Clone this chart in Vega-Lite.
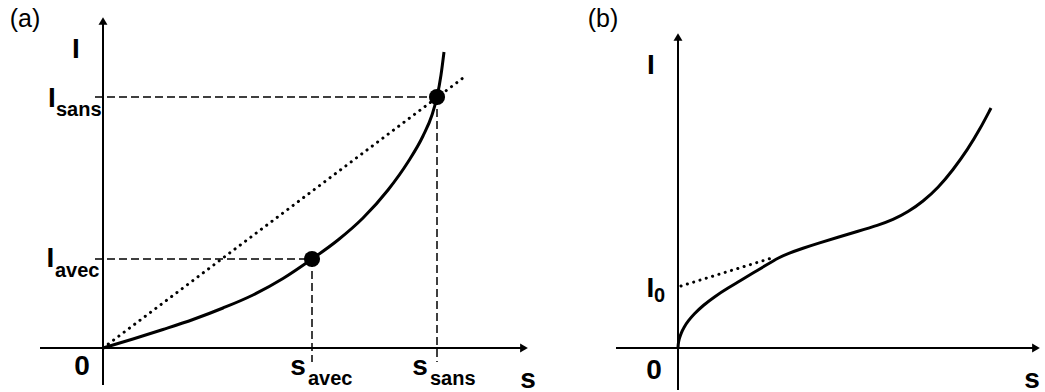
{
  "$schema": "https://vega.github.io/schema/vega-lite/v6.json",
  "padding": 0,
  "spacing": 0,
  "background": "white",
  "config": {"view": {"stroke": null}, "text": {"font": "Liberation Sans", "color": "black"}},
  "datasets": {
    "curveA": [
      {"x": 0, "y": 0}, {"x": 0.3, "y": 0.09}, {"x": 0.6, "y": 0.185}, {"x": 0.9, "y": 0.285},
      {"x": 1.2, "y": 0.4}, {"x": 1.5, "y": 0.53}, {"x": 1.8, "y": 0.695}, {"x": 2.09, "y": 0.89},
      {"x": 2.35, "y": 1.08}, {"x": 2.6, "y": 1.3}, {"x": 2.85, "y": 1.58}, {"x": 3.05, "y": 1.86},
      {"x": 3.2, "y": 2.12}, {"x": 3.29, "y": 2.33}, {"x": 3.34, "y": 2.51}, {"x": 3.38, "y": 2.73},
      {"x": 3.41, "y": 2.96}
    ],
    "pointsA": [{"x": 2.09, "y": 0.89}, {"x": 3.34, "y": 2.51}],
    "axesA": [
      {"x": -0.63, "y": 0, "x2": 4.21, "y2": 0},
      {"x": 0, "y": -0.37, "x2": 0, "y2": 3.27}
    ],
    "arrowsA": [{"x": 4.21, "y": 0, "dir": "right"}, {"x": 0, "y": 3.27, "dir": "up"}],
    "dashedA": [
      {"x": -0.08, "y": 2.51, "x2": 3.34, "y2": 2.51},
      {"x": -0.08, "y": 0.89, "x2": 2.09, "y2": 0.89},
      {"x": 2.09, "y": 0.89, "x2": 2.09, "y2": -0.14},
      {"x": 3.34, "y": 2.51, "x2": 3.34, "y2": -0.14}
    ],
    "dottedA": [{"x": 0, "y": 0, "x2": 3.64, "y2": 2.73}],
    "labelsA": [
      {"x": -0.78, "y": 3.21, "t": "(a)", "kind": "panel"},
      {"x": -0.27, "y": 2.9, "t": "I", "kind": "main"},
      {"x": -0.51, "y": 2.41, "t": "I", "kind": "main"},
      {"x": -0.47, "y": 2.32, "t": "sans", "kind": "sub"},
      {"x": -0.525, "y": 0.81, "t": "I", "kind": "main"},
      {"x": -0.48, "y": 0.71, "t": "avec", "kind": "sub"},
      {"x": -0.21, "y": -0.27, "t": "0", "kind": "main"},
      {"x": 1.95, "y": -0.27, "t": "s", "kind": "main"},
      {"x": 2.05, "y": -0.37, "t": "avec", "kind": "sub"},
      {"x": 3.17, "y": -0.27, "t": "s", "kind": "main"},
      {"x": 3.27, "y": -0.37, "t": "sans", "kind": "sub"},
      {"x": 4.25, "y": -0.4, "t": "s", "kind": "main"}
    ],
    "curveB": [
      {"x": 0, "y": 0}, {"x": 0.002, "y": 0.038}, {"x": 0.01, "y": 0.085}, {"x": 0.03, "y": 0.147},
      {"x": 0.06, "y": 0.208}, {"x": 0.1, "y": 0.269}, {"x": 0.16, "y": 0.34}, {"x": 0.25, "y": 0.425},
      {"x": 0.36, "y": 0.51}, {"x": 0.5, "y": 0.6}, {"x": 0.62, "y": 0.67}, {"x": 0.75, "y": 0.75},
      {"x": 0.9, "y": 0.84}, {"x": 1.0, "y": 0.9}, {"x": 1.1, "y": 0.945}, {"x": 1.25, "y": 0.998},
      {"x": 1.4, "y": 1.047}, {"x": 1.6, "y": 1.107}, {"x": 1.8, "y": 1.167}, {"x": 2.0, "y": 1.227},
      {"x": 2.15, "y": 1.282}, {"x": 2.3, "y": 1.36}, {"x": 2.45, "y": 1.465}, {"x": 2.6, "y": 1.6},
      {"x": 2.75, "y": 1.78}, {"x": 2.9, "y": 1.99}, {"x": 3.02, "y": 2.19}, {"x": 3.13, "y": 2.4}
    ],
    "axesB": [
      {"x": -0.62, "y": 0, "x2": 3.58, "y2": 0},
      {"x": 0, "y": -0.42, "x2": 0, "y2": 3.11}
    ],
    "arrowsB": [{"x": 3.58, "y": 0, "dir": "right"}, {"x": 0, "y": 3.11, "dir": "up"}],
    "dottedB": [{"x": 0.03, "y": 0.62, "x2": 0.97, "y2": 0.91}],
    "labelsB": [
      {"x": -0.75, "y": 3.21, "t": "(b)", "kind": "panel"},
      {"x": -0.27, "y": 2.74, "t": "I", "kind": "main"},
      {"x": -0.275, "y": 0.51, "t": "I", "kind": "main"},
      {"x": -0.24, "y": 0.46, "t": "0", "kind": "sub"},
      {"x": -0.24, "y": -0.31, "t": "0", "kind": "main"},
      {"x": 3.54, "y": -0.4, "t": "s", "kind": "main"}
    ]
  },
  "hconcat": [
    {
      "width": 540,
      "height": 392,
      "encoding": {
        "x": {"field": "x", "type": "quantitative", "scale": {"domain": [-1.03, 4.37], "nice": false, "zero": false}, "axis": null},
        "y": {"field": "y", "type": "quantitative", "scale": {"domain": [-0.44, 3.48], "nice": false, "zero": false}, "axis": null}
      },
      "layer": [
        {"data": {"name": "axesA"}, "mark": {"type": "rule", "color": "black", "strokeWidth": 2}, "encoding": {"x2": {"field": "x2"}, "y2": {"field": "y2"}}},
        {"data": {"name": "arrowsA"}, "mark": {"type": "point", "filled": true, "color": "black", "size": 80, "opacity": 1},
         "encoding": {"shape": {"field": "dir", "type": "nominal", "scale": {"domain": ["up", "right"], "range": ["triangle-up", "triangle-right"]}, "legend": null}}},
        {"data": {"name": "dashedA"}, "mark": {"type": "rule", "color": "black", "strokeWidth": 1.5, "strokeDash": [8, 4]}, "encoding": {"x2": {"field": "x2"}, "y2": {"field": "y2"}}},
        {"data": {"name": "dottedA"}, "mark": {"type": "rule", "color": "black", "strokeWidth": 3, "strokeDash": [0.1, 6.5], "strokeCap": "round"}, "encoding": {"x2": {"field": "x2"}, "y2": {"field": "y2"}}},
        {"data": {"name": "curveA"}, "mark": {"type": "line", "color": "black", "strokeWidth": 3, "interpolate": "monotone"}, "encoding": {}},
        {"data": {"name": "pointsA"}, "mark": {"type": "point", "filled": true, "color": "black", "size": 260, "opacity": 1, "shape": "circle"}, "encoding": {}},
        {"data": {"name": "labelsA"}, "transform": [{"filter": "datum.kind == 'panel'"}], "mark": {"type": "text", "fontSize": 25, "align": "center", "baseline": "alphabetic"}, "encoding": {"text": {"field": "t"}}},
        {"data": {"name": "labelsA"}, "transform": [{"filter": "datum.kind == 'main'"}], "mark": {"type": "text", "fontSize": 28, "fontWeight": "bold", "align": "center", "baseline": "alphabetic"}, "encoding": {"text": {"field": "t"}}},
        {"data": {"name": "labelsA"}, "transform": [{"filter": "datum.kind == 'sub'"}], "mark": {"type": "text", "fontSize": 20, "fontWeight": "bold", "align": "left", "baseline": "alphabetic"}, "encoding": {"text": {"field": "t"}}}
      ]
    },
    {
      "width": 505,
      "height": 392,
      "encoding": {
        "x": {"field": "x", "type": "quantitative", "scale": {"domain": [-1.38, 3.67], "nice": false, "zero": false}, "axis": null},
        "y": {"field": "y", "type": "quantitative", "scale": {"domain": [-0.44, 3.48], "nice": false, "zero": false}, "axis": null}
      },
      "layer": [
        {"data": {"name": "axesB"}, "mark": {"type": "rule", "color": "black", "strokeWidth": 2}, "encoding": {"x2": {"field": "x2"}, "y2": {"field": "y2"}}},
        {"data": {"name": "arrowsB"}, "mark": {"type": "point", "filled": true, "color": "black", "size": 80, "opacity": 1},
         "encoding": {"shape": {"field": "dir", "type": "nominal", "scale": {"domain": ["up", "right"], "range": ["triangle-up", "triangle-right"]}, "legend": null}}},
        {"data": {"name": "dottedB"}, "mark": {"type": "rule", "color": "black", "strokeWidth": 3, "strokeDash": [0.1, 6.5], "strokeCap": "round"}, "encoding": {"x2": {"field": "x2"}, "y2": {"field": "y2"}}},
        {"data": {"name": "curveB"}, "mark": {"type": "line", "color": "black", "strokeWidth": 3, "interpolate": "basis"}, "encoding": {}},
        {"data": {"name": "labelsB"}, "transform": [{"filter": "datum.kind == 'panel'"}], "mark": {"type": "text", "fontSize": 25, "align": "center", "baseline": "alphabetic"}, "encoding": {"text": {"field": "t"}}},
        {"data": {"name": "labelsB"}, "transform": [{"filter": "datum.kind == 'main'"}], "mark": {"type": "text", "fontSize": 28, "fontWeight": "bold", "align": "center", "baseline": "alphabetic"}, "encoding": {"text": {"field": "t"}}},
        {"data": {"name": "labelsB"}, "transform": [{"filter": "datum.kind == 'sub'"}], "mark": {"type": "text", "fontSize": 20, "fontWeight": "bold", "align": "left", "baseline": "alphabetic"}, "encoding": {"text": {"field": "t"}}}
      ]
    }
  ],
  "resolve": {"scale": {"shape": "independent"}}
}
